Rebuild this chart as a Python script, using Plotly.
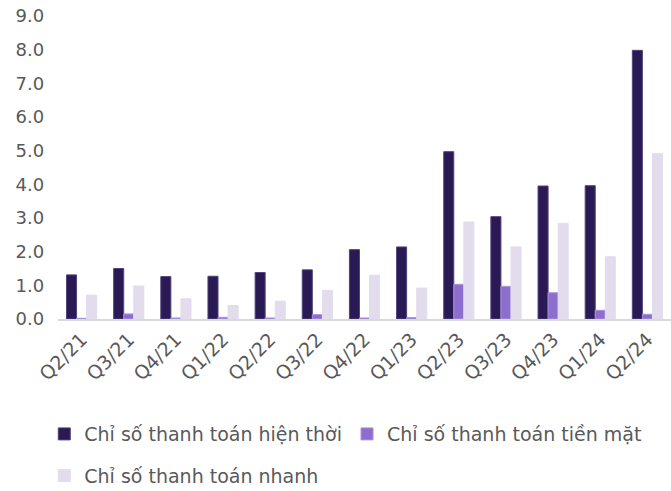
import plotly.graph_objects as go

quarters = ['Q2/21', 'Q3/21', 'Q4/21', 'Q1/22', 'Q2/22', 'Q3/22', 'Q4/22',
            'Q1/23', 'Q2/23', 'Q3/23', 'Q4/23', 'Q1/24', 'Q2/24']
current_ratio = [1.31, 1.50, 1.26, 1.27, 1.38, 1.46, 2.06, 2.14, 4.97, 3.04, 3.95, 3.96, 7.98]
cash_ratio = [0.02, 0.15, 0.03, 0.05, 0.03, 0.13, 0.03, 0.04, 1.03, 0.97, 0.78, 0.26, 0.14]
quick_ratio = [0.71, 0.98, 0.60, 0.40, 0.53, 0.85, 1.30, 0.92, 2.88, 2.14, 2.84, 1.85, 4.91]

FONT = 'DejaVu Sans'
GREY = '#595959'

fig = go.Figure()
fig.add_trace(go.Bar(
    x=quarters, y=current_ratio, name='Chỉ số thanh toán hiện thời',
    marker={'color': '#2a1a54', 'line': {'color': '#52437f', 'width': 1}},
    legend='legend',
))
fig.add_trace(go.Bar(
    x=quarters, y=cash_ratio, name='Chỉ số thanh toán tiền mặt',
    marker={'color': '#8d6ecf', 'line': {'color': '#a892dc', 'width': 1}},
    legend='legend',
))
fig.add_trace(go.Bar(
    x=quarters, y=quick_ratio, name='Chỉ số thanh toán nhanh',
    marker={'color': '#e2dced', 'line': {'color': '#e2dced', 'width': 1}},
    legend='legend2',
))

legend_style = {
    'orientation': 'h',
    'font': {'family': FONT, 'size': 19, 'color': GREY},
    'bgcolor': 'rgba(0,0,0,0)',
    'itemwidth': 30,
    'xanchor': 'left',
    'yanchor': 'middle',
    'xref': 'container',
    'yref': 'container',
}

fig.update_layout(
    width=671,
    height=491,
    paper_bgcolor='white',
    plot_bgcolor='white',
    margin={'l': 30, 'r': 0, 't': 16, 'b': 172, 'autoexpand': False},
    barmode='group',
    bargap=0.36,
    bargroupgap=0.0,
    font={'family': FONT, 'color': GREY},
    legend={**legend_style, 'x': 0.066, 'y': 0.116},
    legend2={**legend_style, 'x': 0.066, 'y': 0.031},
)
# y axis floats just left of the x domain so its labels sit where the original has them
fig.update_yaxes(
    range=[0, 9],
    dtick=1,
    tickformat='.1f',
    showgrid=False,
    zeroline=False,
    showline=False,
    automargin=False,
    anchor='free',
    position=0.022,
    tickfont={'family': FONT, 'size': 18, 'color': GREY},
    ticks='',
    ticklen=0,
)
fig.update_xaxes(
    domain=[0.0437, 1],
    showgrid=False,
    showline=True,
    linecolor='#d9d9d9',
    linewidth=2,
    automargin=False,
    tickangle=-45,
    tickfont={'family': FONT, 'size': 19, 'color': GREY},
    ticks='',
)

# the page body has an 8px default margin; drop it so the figure sits at 0,0
fig.write_html(
    'out.html',
    config={'displayModeBar': False},
    post_script="document.body.style.margin = '0';",
)
